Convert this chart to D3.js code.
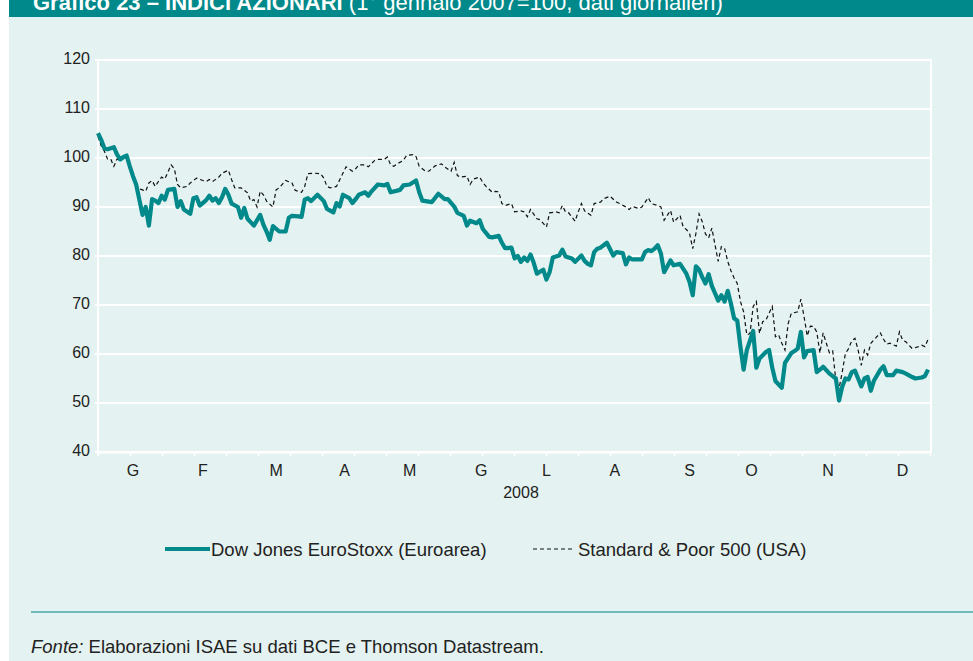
<!DOCTYPE html>
<html>
<head>
<meta charset="utf-8">
<script src="https://cdn.jsdelivr.net/npm/d3@7"></script>
<style>
  html, body { margin: 0; padding: 0; background: #ffffff; }
  svg { display: block; font-family: "Liberation Sans", Arial, Helvetica, sans-serif; }
</style>
</head>
<body>
<svg id="chart" width="973" height="661"></svg>
<script>
// ---- data (business-day index in 2008, index value: 1 Jan 2007 = 100) ----
const monthLabels = ["G","F","M","A","M","G","L","A","S","O","N","D"];
const monthPos = [11, 33, 56, 77.5, 98, 120.5, 141, 162.5, 186, 205.5, 229.5, 253];
const yTicks = [40, 50, 60, 70, 80, 90, 100, 110, 120];
const yearLabel = "2008";
const seriesNames = ["Dow Jones EuroStoxx (Euroarea)", "Standard & Poor 500 (USA)"];

const euroStoxx = [
[0,105.1],[1,103.7],[2,102],[3,101.8],[5,102.2],[6,100.7],[7,99.7],[8,100.2],[9,100.5],[10,98.3],
[11,96.3],[12,94.6],[13,91.5],[14,88.4],[15,90],[16,86.2],[17,91.6],[18,91.3],[19,90.8],[20,92.3],
[21,91.5],[22,93.5],[24,93.7],[25,90],[26,91.2],[27,89.5],[29,88.6],[30,91.8],[31,92],[32,90.3],
[34,91.4],[35,92.3],[36,91.3],[37,91.8],[38,90.8],[39,92],[40,93.7],[41,92.5],[42,90.7],[44,90],
[45,87.8],[46,89.8],[47,87.6],[48,86.9],[49,86.2],[51,88.4],[52,86.4],[53,85],[54,83.3],[55,86.1],
[57,85],[59,85],[60,87.8],[61,88.2],[63,88.1],[64,88],[65,91.5],[66,91.8],[67,91.2],[69,92.5],
[71,91.2],[72,89.6],[74,88.9],[75,90.8],[76,90.1],[77,92.5],[79,91.8],[80,90.8],[81,91.6],[82,92.5],
[84,93],[85,92.3],[86,93.2],[88,94.6],[90,94.4],[91,94.7],[92,93],[95,93.5],[96,94.4],[98,94.6],
[100,95.4],[101,93],[102,91.3],[105,91],[107,92.7],[109,91.6],[110,91.6],[112,90.1],[113,88.8],[115,88.2],
[116,86.2],[117,87.2],[119,86.7],[120,87.3],[121,85.5],[123,83.9],[124,83.8],[126,84.1],[127,82.7],[128,81.6],
[130,81.7],[131,79.5],[132,80],[133,78.8],[134,79.7],[135,79],[136,80.3],[137,78.6],[138,76.4],[140,77.2],
[141,75.2],[142,76.7],[143,79.7],[145,80.1],[146,81.3],[147,79.9],[149,79.5],[150,78.8],[152,80.1],[153,79],
[154,78.4],[155,78.1],[156,80.8],[157,81.5],[158,81.7],[160,82.7],[162,80.1],[163,80.8],[165,80.6],[166,78.3],
[167,79.7],[168,79.3],[171,79.3],[172,80.8],[173,81.2],[174,81],[175,81.5],[176,82.2],[177,80.5],[178,76.7],
[180,79.1],[181,78.1],[183,78.4],[185,76.4],[186,74.7],[187,72],[188,77.9],[189,77.2],[190,75.7],[191,74.4],
[192,76.3],[193,73.9],[195,70.9],[196,72],[197,70.7],[198,72.9],[199,70.3],[200,67.3],[201,66.8],[202,61.5],
[203,56.8],[204,60.8],[206,64.7],[207,57.2],[208,59.1],[210,60.4],[211,60.8],[212,57.2],[213,54.5],[215,53.1],
[216,58.2],[218,60.2],[219,60.6],[220,61.1],[221,64.5],[222,59.3],[223,60.6],[225,60.8],[226,56.3],[227,56.8],
[228,57.4],[230,56],[231,55.5],[232,55],[233,50.5],[234,53.3],[235,55],[236,54.8],[237,56.3],[238,56.6],
[239,55],[240,53.4],[241,55],[242,55.3],[243,52.5],[244,54.6],[246,56.8],[247,57.5],[248,55.7],[250,55.7],
[251,56.6],[253,56.3],[254,56],[256,55.3],[257,55],[259,55.2],[260,55.5],[261,56.8]
];

const sp500 = [
[0,104.4],[1,102.5],[2,101.4],[3,99.8],[4,99.8],[5,98.3],[6,99.8],[7,99.5],[8,100.3],[9,99.8],
[10,97.6],[11,96.3],[12,93.9],[14,93.5],[15,93.2],[16,94.9],[17,95.4],[18,94.2],[19,95.2],[20,96.1],
[21,95.7],[23,98.6],[24,97.8],[25,94.6],[26,93.9],[28,94.2],[29,94.9],[31,95.9],[33,95.4],[34,95.2],
[35,95.6],[36,95.2],[38,96.1],[39,96.9],[41,97.5],[42,95.6],[43,93.9],[45,93.9],[47,92.9],[48,91.2],
[49,91.5],[50,90],[51,93.2],[52,92.5],[53,91.2],[55,90],[56,93.5],[57,93.9],[59,95.4],[61,94.9],
[62,93.4],[64,93],[65,94.2],[66,96.8],[68,96.9],[70,96.8],[71,95.9],[72,94.2],[73,93.9],[75,94.2],
[77,96.9],[78,98.2],[80,97.3],[81,97.8],[82,98.6],[84,98.6],[85,98.2],[87,99.5],[88,99.7],[90,99.7],
[91,100.2],[92,98.6],[93,98.3],[94,98.8],[96,99.5],[97,100.5],[99,100.7],[100,100.3],[101,98.3],[103,97.3],
[104,97.3],[106,98.4],[108,98.8],[109,98.2],[111,97.3],[112,99.1],[113,96.4],[114,96.1],[116,96.3],[117,94.6],
[118,95.7],[120,96.1],[121,95],[122,94.2],[124,93],[125,93.2],[126,93.1],[127,90.7],[128,90.3],[130,90.7],
[131,89],[133,89.2],[134,89],[135,88],[136,89.5],[138,87.6],[139,87.4],[141,85.9],[142,88.8],[144,89],
[145,88.8],[146,90.3],[147,89],[148,88.8],[150,87.1],[151,89],[152,90.7],[153,89.2],[155,88.3],[156,90.7],
[158,91],[159,91.7],[161,92.2],[163,91],[164,90.7],[166,90],[167,89.5],[168,90.1],[170,89.7],[171,90],
[173,91.9],[174,90.7],[176,90.3],[177,90],[178,87.3],[179,88.3],[180,89.3],[181,86.9],[183,88.3],[184,85.9],
[185,85.4],[186,84.6],[187,81.5],[188,84.6],[189,88.6],[190,87],[191,84.5],[192,83.7],[193,85.7],[194,82.3],
[195,78.9],[196,81.9],[197,81.6],[198,78.9],[199,77],[200,75.5],[201,74.4],[202,70.7],[203,68.6],[204,63.9],
[205,64.2],[206,69.7],[207,70.7],[208,64.2],[209,66.6],[210,66.9],[212,69.7],[213,63.5],[214,63.9],[215,62.2],
[216,60.8],[217,66.2],[218,68.3],[220,68.6],[221,71.2],[222,67.6],[223,63.7],[224,65.7],[225,65.6],[226,64.5],
[227,60.2],[228,64.3],[229,62.2],[230,60.2],[231,60.6],[232,54.6],[233,52.9],[234,56.3],[235,60.1],[236,61.1],
[237,62.7],[238,63.2],[239,60.8],[240,57.7],[241,60.8],[242,59.8],[243,62.2],[246,64.3],[247,63],[248,62],
[249,62.2],[251,61.6],[252,64.5],[253,62.8],[254,62.5],[256,61.1],[258,61.5],[259,61.8],[260,61.5],[261,63]
];

// ---- drawing ----
const TEAL = "#00898a";
const BG = "#e4f2f1";
const svg = d3.select("#chart");

// panel background
svg.append("rect").attr("x", 9).attr("y", 0).attr("width", 964).attr("height", 661).attr("fill", BG);
// title bar (the heading is cropped at the top edge, as in the reference)
svg.append("rect").attr("x", 9).attr("y", 0).attr("width", 964).attr("height", 17).attr("fill", TEAL);
const title = svg.append("text").attr("x", 33).attr("y", 10).attr("fill", "#ffffff").attr("font-size", 22);
title.append("tspan").attr("font-weight", "bold").text("Grafico 23 – INDICI AZIONARI ");
title.append("tspan").text("(1° gennaio 2007=100, dati giornalieri)");

const x = d3.scaleLinear().domain([0, 261.6]).range([98, 930]);
const y = d3.scaleLinear().domain([40, 120]).range([452, 60]);
const tickScale = d3.scaleLinear().domain([0, 26]).range([98, 930]);

// horizontal grid (white)
svg.append("g").selectAll("line").data(yTicks).join("line")
  .attr("x1", 95).attr("x2", 931.5)
  .attr("y1", d => y(d)).attr("y2", d => y(d))
  .attr("stroke", "#ffffff").attr("stroke-width", 2);
// left axis and right border
svg.append("line").attr("x1", 98).attr("x2", 98).attr("y1", y(120)).attr("y2", y(40) + 4)
  .attr("stroke", "#ffffff").attr("stroke-width", 2);
svg.append("line").attr("x1", 931).attr("x2", 931).attr("y1", y(120)).attr("y2", y(40))
  .attr("stroke", "#ffffff").attr("stroke-width", 2);

// y labels
svg.append("g").selectAll("text").data(yTicks).join("text")
  .attr("x", 90).attr("y", d => y(d) - 2)
  .attr("text-anchor", "end").attr("dominant-baseline", "central")
  .attr("font-size", 16).attr("fill", "#222")
  .text(d => d);

// x ticks
const xAxis = d3.axisBottom(tickScale).tickValues(d3.range(27)).tickFormat("").tickSize(4).tickSizeOuter(0);
const gx = svg.append("g").attr("transform", `translate(0,${y(40)})`).call(xAxis);
gx.select(".domain").attr("stroke", "#ffffff").attr("stroke-width", 2);
gx.selectAll(".tick line").attr("stroke", "#ffffff").attr("stroke-width", 1.5);

// month labels
svg.append("g").selectAll("text").data(monthLabels).join("text")
  .attr("x", (d, i) => x(monthPos[i])).attr("y", 470)
  .attr("text-anchor", "middle").attr("dominant-baseline", "central")
  .attr("font-size", 16).attr("fill", "#222")
  .text(d => d);
svg.append("text").attr("x", 521).attr("y", 492)
  .attr("text-anchor", "middle").attr("dominant-baseline", "central")
  .attr("font-size", 16).attr("fill", "#222").text(yearLabel);

// lines
const line = d3.line().x(d => x(d[0])).y(d => y(d[1]));
svg.append("path").datum(sp500).attr("d", line)
  .attr("fill", "none").attr("stroke", "#111").attr("stroke-width", 1.2)
  .attr("stroke-dasharray", "4,3");
svg.append("path").datum(euroStoxx).attr("d", line)
  .attr("fill", "none").attr("stroke", TEAL).attr("stroke-width", 4.2)
  .attr("stroke-linejoin", "round");

// legend
const ly = 549;
svg.append("line").attr("x1", 165).attr("x2", 210).attr("y1", ly).attr("y2", ly)
  .attr("stroke", TEAL).attr("stroke-width", 4);
svg.append("text").attr("x", 211).attr("y", ly).attr("dominant-baseline", "central")
  .attr("font-size", 18.5).attr("fill", "#222").text(seriesNames[0]);
svg.append("line").attr("x1", 533).attr("x2", 575).attr("y1", ly).attr("y2", ly)
  .attr("stroke", "#111").attr("stroke-width", 1.2).attr("stroke-dasharray", "4,3");
svg.append("text").attr("x", 578).attr("y", ly).attr("dominant-baseline", "central")
  .attr("font-size", 18.5).attr("fill", "#222").text(seriesNames[1]);

// separator
svg.append("line").attr("x1", 31).attr("x2", 973).attr("y1", 612).attr("y2", 612)
  .attr("stroke", "#4aa7a7").attr("stroke-width", 1.5);

// source
const src = svg.append("text").attr("x", 31).attr("y", 646).attr("dominant-baseline", "central")
  .attr("font-size", 18.5).attr("fill", "#222");
src.append("tspan").attr("font-style", "italic").text("Fonte:");
src.append("tspan").text(" Elaborazioni ISAE su dati BCE e Thomson Datastream.");
</script>
</body>
</html>
